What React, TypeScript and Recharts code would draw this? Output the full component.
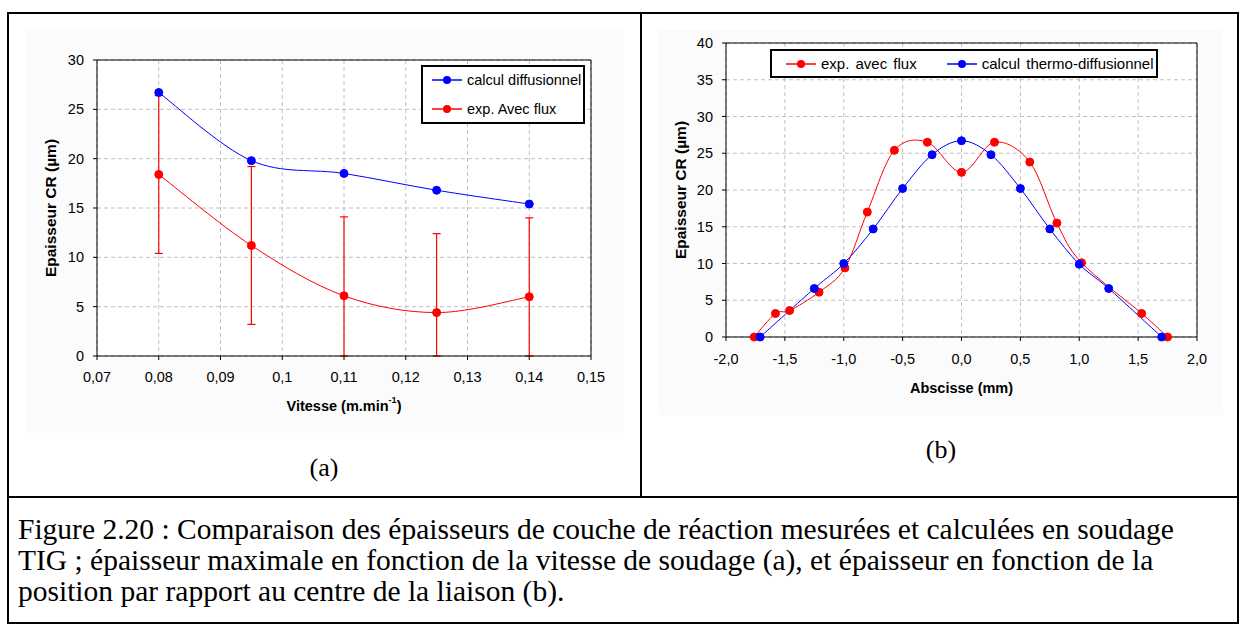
import React from 'react';
import {
  LineChart, Line, XAxis, YAxis, CartesianGrid, ErrorBar, Legend, ReferenceLine,
} from 'recharts';

// (a) épaisseur max vs vitesse
const vitesse = [0.08, 0.095, 0.11, 0.125, 0.14];
const calculDiff = [26.7, 19.8, 18.5, 16.8, 15.4];
const expAvecFlux = [18.4, 11.2, 6.1, 4.4, 6.0];
// error bars: the lower part stops at the axis (0) in the figure
const expErrBas = [8, 8, 6.1, 4.4, 6.0];
const expErrHaut = [8, 8, 8, 8, 8];
const vitesseTicks = [0.07, 0.08, 0.09, 0.1, 0.11, 0.12, 0.13, 0.14, 0.15];
const epTicksA = [0, 5, 10, 15, 20, 25, 30];

// (b) épaisseur vs abscisse
const abscExp = [-1.76, -1.58, -1.46, -1.21, -0.99, -0.8, -0.57, -0.29, 0, 0.28, 0.58, 0.81, 1.02, 1.53, 1.75];
const epExp = [0, 3.2, 3.6, 6.1, 9.4, 17.0, 25.4, 26.5, 22.4, 26.5, 23.8, 15.5, 10.1, 3.2, 0];
const abscCalc = [-1.71, -1.25, -1.0, -0.75, -0.5, -0.25, 0, 0.25, 0.5, 0.75, 1.0, 1.25, 1.7];
const epCalc = [0, 6.6, 10.0, 14.7, 20.2, 24.8, 26.7, 24.8, 20.2, 14.7, 9.9, 6.6, 0];
const abscTicks = [-2, -1.5, -1, -0.5, 0, 0.5, 1, 1.5, 2];
const epTicksB = [0, 5, 10, 15, 20, 25, 30, 35, 40];

const RED = '#FF0000';
const BLUE = '#0000FF';
const SANS = '"Liberation Sans", Arial, sans-serif';
const SERIF = '"Liberation Serif", "Times New Roman", serif';

const dataA = vitesse.map((v, i) => ({
  v, calc: calculDiff[i], exp: expAvecFlux[i], err: [expErrBas[i], expErrHaut[i]],
}));
const dataExp = abscExp.map((x, i) => ({ x, y: epExp[i] }));
const dataCalc = abscCalc.map((x, i) => ({ x, y: epCalc[i] }));

// Excel-like smoothed line (Catmull-Rom through the points)
const excelSmooth: any = (context: any) => {
  let pts: [number, number][] = [];
  return {
    areaStart() {},
    areaEnd() {},
    lineStart() { pts = []; },
    point(x: number, y: number) { pts.push([x, y]); },
    lineEnd() {
      if (!pts.length) return;
      context.moveTo(pts[0][0], pts[0][1]);
      for (let i = 0; i < pts.length - 1; i++) {
        const p0 = pts[i - 1] || pts[i];
        const p1 = pts[i];
        const p2 = pts[i + 1];
        const p3 = pts[i + 2] || p2;
        context.bezierCurveTo(
          p1[0] + (p2[0] - p0[0]) / 6, p1[1] + (p2[1] - p0[1]) / 6,
          p2[0] - (p3[0] - p1[0]) / 6, p2[1] - (p3[1] - p1[1]) / 6,
          p2[0], p2[1],
        );
      }
    },
  };
};

const tickStyle = { fontSize: 14.5, fill: '#000', fontFamily: SANS };
const fmtComma = (d: number) => (v: number) => v.toFixed(d).replace('.', ',');
const fmtA = (v: number) => String(+v.toFixed(3)).replace('.', ',');

const LegendIcon = ({ color }: { color: string }) => (
  <svg width={30} height={10} style={{ display: 'block' }}>
    <line x1={0} y1={5} x2={30} y2={5} stroke={color} strokeWidth={1.5} />
    <circle cx={15} cy={5} r={4} fill={color} />
  </svg>
);

const LegendBox = ({ payload, order, vertical, fontSize }: any) => {
  const items = order.map((n: string) => (payload || []).find((p: any) => p.value === n)).filter(Boolean);
  return (
    <div
      style={{
        width: '100%', height: '100%', boxSizing: 'border-box', border: '2px solid #000', background: '#fff',
        display: 'flex', flexDirection: vertical ? 'column' : 'row', alignItems: vertical ? 'flex-start' : 'center',
        padding: vertical ? '3px 0 0 9px' : '0 0 0 14px', gap: vertical ? 9 : 30,
        fontFamily: SANS, fontSize, color: '#000', wordSpacing: vertical ? 0 : 2,
      }}
    >
      {items.map((p: any) => (
        <div key={p.value} style={{ display: 'flex', alignItems: 'center', height: 20, gap: 5, whiteSpace: 'nowrap' }}>
          <LegendIcon color={p.color} />
          <span>{p.value}</span>
        </div>
      ))}
    </div>
  );
};

const YTitle = ({ viewBox, tx }: any) => {
  const cy = viewBox.y + viewBox.height / 2;
  return (
    <text x={tx} y={cy} transform={`rotate(-90 ${tx} ${cy})`} textAnchor="middle" dominantBaseline="central"
      fontFamily={SANS} fontWeight="bold" fontSize={15.5} fill="#000">
      Epaisseur CR (µm)
    </text>
  );
};

const XTitle = ({ viewBox, ty, sup }: any) => {
  const cx = viewBox.x + viewBox.width / 2;
  return (
    <text x={cx} y={ty} textAnchor="middle" dominantBaseline="central"
      fontFamily={SANS} fontWeight="bold" fontSize={14.5} fill="#000">
      {sup ? (
        <>
          Vitesse (m.min<tspan dy={-6} fontSize={9}>-1</tspan><tspan dy={6}>)</tspan>
        </>
      ) : 'Abscisse (mm)'}
    </text>
  );
};

const ChartA = () => (
  <LineChart width={640} height={497} data={dataA} margin={{ top: 60, right: 49, bottom: 81, left: 47 }}>
    <CartesianGrid stroke="#C0C0C0" strokeDasharray="4 3" fill="#fff" />
    <XAxis dataKey="v" type="number" domain={[0.07, 0.15]} ticks={vitesseTicks} tickFormatter={fmtA}
      height={60} tickSize={4} tickMargin={12} tick={tickStyle} axisLine={{ stroke: '#000' }} tickLine={{ stroke: '#000' }}
      label={<XTitle ty={406} sup />} />
    <YAxis type="number" domain={[0, 30]} ticks={epTicksA} allowDataOverflow width={50}
      tickSize={4} tickMargin={9} tick={tickStyle} axisLine={{ stroke: '#000' }} tickLine={{ stroke: '#000' }}
      label={<YTitle tx={50} />} />
    <ReferenceLine y={30} stroke="#000" />
    <ReferenceLine x={0.15} stroke="#000" />
    <Line type={excelSmooth} dataKey="exp" name="exp. Avec flux" stroke={RED} strokeWidth={1}
      dot={{ r: 4, fill: RED, stroke: RED, strokeWidth: 1 }} isAnimationActive={false}>
      <ErrorBar dataKey="err" width={4} stroke={RED} strokeWidth={1.2} direction="y" />
    </Line>
    <Line type={excelSmooth} dataKey="calc" name="calcul diffusionnel" stroke={BLUE} strokeWidth={1}
      dot={{ r: 4, fill: BLUE, stroke: BLUE, strokeWidth: 1 }} isAnimationActive={false} />
    <Legend layout="vertical" align="center" verticalAlign="middle"
      wrapperStyle={{ left: 421, top: 65, width: 164, height: 59 }}
      content={(p: any) => <LegendBox payload={p.payload} order={['calcul diffusionnel', 'exp. Avec flux']} vertical fontSize={14.5} />} />
  </LineChart>
);

const ChartB = () => (
  <LineChart width={598} height={497} margin={{ top: 43, right: 44, bottom: 100, left: 33 }}>
    <CartesianGrid stroke="#C0C0C0" strokeDasharray="4 3" fill="#fff" />
    <XAxis dataKey="x" type="number" domain={[-2, 2]} ticks={abscTicks} tickFormatter={fmtComma(1)}
      height={60} tickSize={4} tickMargin={13} tick={tickStyle} axisLine={{ stroke: '#000' }} tickLine={{ stroke: '#000' }}
      label={<XTitle ty={388} />} />
    <YAxis type="number" domain={[0, 40]} ticks={epTicksB} width={50}
      tickSize={4} tickMargin={9} tick={tickStyle} axisLine={{ stroke: '#000' }} tickLine={{ stroke: '#000' }}
      label={<YTitle tx={37} />} />
    <ReferenceLine y={40} stroke="#000" />
    <ReferenceLine x={2} stroke="#000" />
    <Line data={dataExp} type={excelSmooth} dataKey="y" name="exp. avec flux" stroke={RED} strokeWidth={1}
      dot={{ r: 4, fill: RED, stroke: RED, strokeWidth: 1 }} isAnimationActive={false} />
    <Line data={dataCalc} type={excelSmooth} dataKey="y" name="calcul thermo-diffusionnel" stroke={BLUE} strokeWidth={1}
      dot={{ r: 4, fill: BLUE, stroke: BLUE, strokeWidth: 1 }} isAnimationActive={false} />
    <Legend layout="vertical" align="center" verticalAlign="middle"
      wrapperStyle={{ left: 127, top: 49, width: 388, height: 29 }}
      content={(p: any) => <LegendBox payload={p.payload} order={['exp. avec flux', 'calcul thermo-diffusionnel']} fontSize={15} />} />
  </LineChart>
);

export default function App() {
  const abs = (s: React.CSSProperties): React.CSSProperties => ({ position: 'absolute', ...s });
  return (
    <div style={abs({ left: 0, top: 0, width: 1241, height: 625, background: '#fff', overflow: 'hidden' })}>
      <div style={abs({ left: 25, top: 28, width: 599, height: 405, background: '#FBFBFB' })} />
      <div style={abs({ left: 659, top: 30, width: 564, height: 385, background: '#FBFBFB' })} />
      <div style={abs({ left: 0, top: 0 })}><ChartA /></div>
      <div style={abs({ left: 643, top: 0 })}><ChartB /></div>
      <div style={abs({ left: 274, top: 452, width: 100, textAlign: 'center', font: `26px ${SERIF}`, lineHeight: '32px' })}>(a)</div>
      <div style={abs({ left: 891, top: 434, width: 100, textAlign: 'center', font: `26px ${SERIF}`, lineHeight: '32px' })}>(b)</div>

      <div style={abs({ left: 7, top: 12, width: 1232, height: 612, border: '2px solid #000', boxSizing: 'border-box' })} />
      <div style={abs({ left: 640, top: 12, width: 2, height: 486, background: '#000' })} />
      <div style={abs({ left: 7, top: 496, width: 1232, height: 2, background: '#000' })} />

      <div style={abs({ left: 18, top: 514, font: `29.5px ${SERIF}`, lineHeight: '31px', whiteSpace: 'nowrap', color: '#000' })}>
        Figure 2.20 : Comparaison des épaisseurs de couche de réaction mesurées et calculées en soudage<br />
        TIG ; épaisseur maximale en fonction de la vitesse de soudage (a), et épaisseur en fonction de la<br />
        position par rapport au centre de la liaison (b).
      </div>
    </div>
  );
}
